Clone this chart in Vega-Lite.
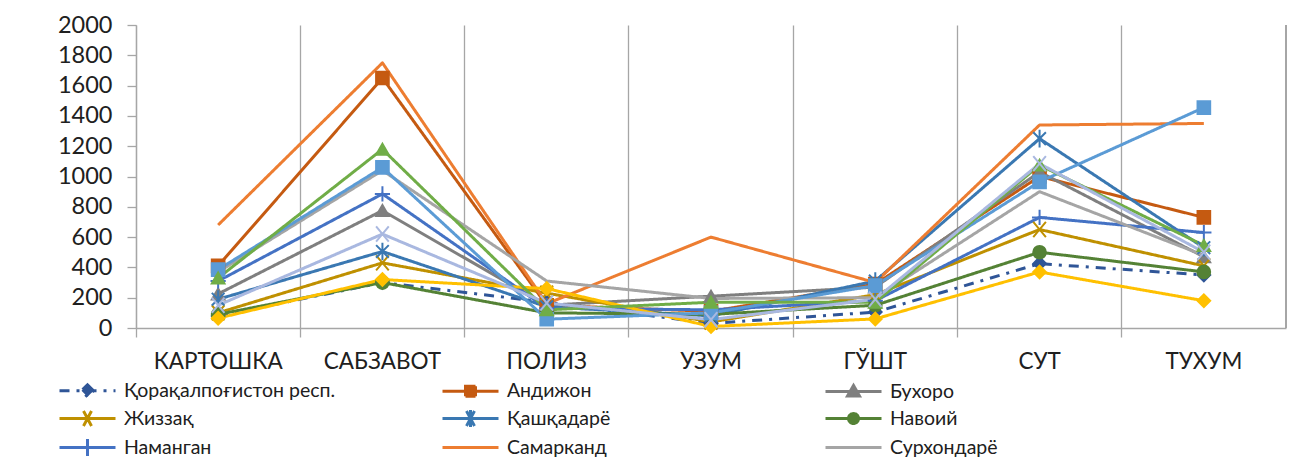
{
  "$schema": "https://vega.github.io/schema/vega-lite/v6.json",
  "width": 1150,
  "height": 303,
  "autosize": {"type": "none"},
  "padding": {"left": 136, "top": 25, "right": 3, "bottom": 131},
  "background": "white",
  "config": {
    "view": {"stroke": null},
    "font": "Lato",
    "axis": {"labelOverlap": false, "labelBound": false},
    "legend": {
      "title": null,
      "orient": "none",
      "legendX": -78,
      "legendY": 353,
      "padding": 0,
      "columns": 3,
      "gridAlign": "all",
      "columnPadding": 100,
      "rowPadding": 0,
      "symbolSize": 400,
      "symbolStrokeWidth": 3,
      "labelFontSize": 19.5,
      "labelFont": "Lato",
      "labelColor": "#202020",
      "labelOffset": 43,
      "labelLimit": 400
    }
  },
  "data": {
    "values": [
      {"region": "Қорақалпоғистон респ.", "category": "КАРТОШКА", "value": 80},
      {"region": "Қорақалпоғистон респ.", "category": "САБЗАВОТ", "value": 300},
      {"region": "Қорақалпоғистон респ.", "category": "ПОЛИЗ", "value": 170},
      {"region": "Қорақалпоғистон респ.", "category": "УЗУМ", "value": 30},
      {"region": "Қорақалпоғистон респ.", "category": "ГЎШТ", "value": 105},
      {"region": "Қорақалпоғистон респ.", "category": "СУТ", "value": 425},
      {"region": "Қорақалпоғистон респ.", "category": "ТУХУМ", "value": 350},
      {"region": "Андижон", "category": "КАРТОШКА", "value": 410},
      {"region": "Андижон", "category": "САБЗАВОТ", "value": 1650},
      {"region": "Андижон", "category": "ПОЛИЗ", "value": 150},
      {"region": "Андижон", "category": "УЗУМ", "value": 110},
      {"region": "Андижон", "category": "ГЎШТ", "value": 290},
      {"region": "Андижон", "category": "СУТ", "value": 1000},
      {"region": "Андижон", "category": "ТУХУМ", "value": 730},
      {"region": "Бухоро", "category": "КАРТОШКА", "value": 225},
      {"region": "Бухоро", "category": "САБЗАВОТ", "value": 775},
      {"region": "Бухоро", "category": "ПОЛИЗ", "value": 150},
      {"region": "Бухоро", "category": "УЗУМ", "value": 210},
      {"region": "Бухоро", "category": "ГЎШТ", "value": 270},
      {"region": "Бухоро", "category": "СУТ", "value": 1030},
      {"region": "Бухоро", "category": "ТУХУМ", "value": 470},
      {"region": "Жиззақ", "category": "КАРТОШКА", "value": 100},
      {"region": "Жиззақ", "category": "САБЗАВОТ", "value": 430},
      {"region": "Жиззақ", "category": "ПОЛИЗ", "value": 230},
      {"region": "Жиззақ", "category": "УЗУМ", "value": 40},
      {"region": "Жиззақ", "category": "ГЎШТ", "value": 220},
      {"region": "Жиззақ", "category": "СУТ", "value": 650},
      {"region": "Жиззақ", "category": "ТУХУМ", "value": 410},
      {"region": "Қашқадарё", "category": "КАРТОШКА", "value": 190},
      {"region": "Қашқадарё", "category": "САБЗАВОТ", "value": 505},
      {"region": "Қашқадарё", "category": "ПОЛИЗ", "value": 140},
      {"region": "Қашқадарё", "category": "УЗУМ", "value": 80},
      {"region": "Қашқадарё", "category": "ГЎШТ", "value": 310},
      {"region": "Қашқадарё", "category": "СУТ", "value": 1250},
      {"region": "Қашқадарё", "category": "ТУХУМ", "value": 530},
      {"region": "Навоий", "category": "КАРТОШКА", "value": 90},
      {"region": "Навоий", "category": "САБЗАВОТ", "value": 300},
      {"region": "Навоий", "category": "ПОЛИЗ", "value": 100},
      {"region": "Навоий", "category": "УЗУМ", "value": 90},
      {"region": "Навоий", "category": "ГЎШТ", "value": 150},
      {"region": "Навоий", "category": "СУТ", "value": 500},
      {"region": "Навоий", "category": "ТУХУМ", "value": 370},
      {"region": "Наманган", "category": "КАРТОШКА", "value": 310},
      {"region": "Наманган", "category": "САБЗАВОТ", "value": 885},
      {"region": "Наманган", "category": "ПОЛИЗ", "value": 130},
      {"region": "Наманган", "category": "УЗУМ", "value": 120},
      {"region": "Наманган", "category": "ГЎШТ", "value": 180},
      {"region": "Наманган", "category": "СУТ", "value": 730},
      {"region": "Наманган", "category": "ТУХУМ", "value": 630},
      {"region": "Самарканд", "category": "КАРТОШКА", "value": 680},
      {"region": "Самарканд", "category": "САБЗАВОТ", "value": 1750},
      {"region": "Самарканд", "category": "ПОЛИЗ", "value": 160},
      {"region": "Самарканд", "category": "УЗУМ", "value": 600},
      {"region": "Самарканд", "category": "ГЎШТ", "value": 300},
      {"region": "Самарканд", "category": "СУТ", "value": 1340},
      {"region": "Самарканд", "category": "ТУХУМ", "value": 1350},
      {"region": "Сурхондарё", "category": "КАРТОШКА", "value": 370},
      {"region": "Сурхондарё", "category": "САБЗАВОТ", "value": 1040},
      {"region": "Сурхондарё", "category": "ПОЛИЗ", "value": 310},
      {"region": "Сурхондарё", "category": "УЗУМ", "value": 195},
      {"region": "Сурхондарё", "category": "ГЎШТ", "value": 200},
      {"region": "Сурхондарё", "category": "СУТ", "value": 900},
      {"region": "Сурхондарё", "category": "ТУХУМ", "value": 480},
      {"region": "Сирдарё", "category": "КАРТОШКА", "value": 65},
      {"region": "Сирдарё", "category": "САБЗАВОТ", "value": 320},
      {"region": "Сирдарё", "category": "ПОЛИЗ", "value": 260},
      {"region": "Сирдарё", "category": "УЗУМ", "value": 10},
      {"region": "Сирдарё", "category": "ГЎШТ", "value": 60},
      {"region": "Сирдарё", "category": "СУТ", "value": 370},
      {"region": "Сирдарё", "category": "ТУХУМ", "value": 180},
      {"region": "Тошкент", "category": "КАРТОШКА", "value": 385},
      {"region": "Тошкент", "category": "САБЗАВОТ", "value": 1060},
      {"region": "Тошкент", "category": "ПОЛИЗ", "value": 58},
      {"region": "Тошкент", "category": "УЗУМ", "value": 100},
      {"region": "Тошкент", "category": "ГЎШТ", "value": 280},
      {"region": "Тошкент", "category": "СУТ", "value": 965},
      {"region": "Тошкент", "category": "ТУХУМ", "value": 1455},
      {"region": "Фарғона", "category": "КАРТОШКА", "value": 330},
      {"region": "Фарғона", "category": "САБЗАВОТ", "value": 1180},
      {"region": "Фарғона", "category": "ПОЛИЗ", "value": 120},
      {"region": "Фарғона", "category": "УЗУМ", "value": 170},
      {"region": "Фарғона", "category": "ГЎШТ", "value": 170},
      {"region": "Фарғона", "category": "СУТ", "value": 1075},
      {"region": "Фарғона", "category": "ТУХУМ", "value": 545},
      {"region": "Хоразм", "category": "КАРТОШКА", "value": 150},
      {"region": "Хоразм", "category": "САБЗАВОТ", "value": 620},
      {"region": "Хоразм", "category": "ПОЛИЗ", "value": 165},
      {"region": "Хоразм", "category": "УЗУМ", "value": 55},
      {"region": "Хоразм", "category": "ГЎШТ", "value": 190},
      {"region": "Хоразм", "category": "СУТ", "value": 1085},
      {"region": "Хоразм", "category": "ТУХУМ", "value": 500}
    ]
  },
  "layer": [
    {
      "mark": {"type": "rule", "color": "#A6A6A6", "strokeWidth": 1.3},
      "encoding": {
        "x": {"datum": "ТУХУМ", "type": "nominal", "bandPosition": 1}
      }
    },
    {
      "mark": {"type": "line", "strokeWidth": 3, "strokeJoin": "round"},
      "encoding": {
        "x": {
          "field": "category",
          "type": "nominal",
          "sort": null,
          "scale": {"type": "band", "domain": ["КАРТОШКА", "САБЗАВОТ", "ПОЛИЗ", "УЗУМ", "ГЎШТ", "СУТ", "ТУХУМ"], "paddingInner": 0, "paddingOuter": 0},
          "axis": {
            "title": null,
            "bandPosition": 0,
            "grid": true,
            "gridColor": "#A6A6A6",
            "gridWidth": 1.3,
            "domainColor": "#A6A6A6",
            "domainWidth": 1.3,
            "tickColor": "#A6A6A6",
            "tickWidth": 1.3,
            "tickSize": 9,
            "labelAngle": 0,
            "labelAlign": "center",
            "labelFontSize": 22.5,
            "labelColor": "#202020",
            "labelPadding": 24,
            "labelOffset": 0,
            "labelOverlap": false
          }
        },
        "y": {
          "field": "value",
          "type": "quantitative",
          "scale": {"domain": [0, 2000], "nice": false},
          "axis": {
            "title": null,
            "values": [0, 200, 400, 600, 800, 1000, 1200, 1400, 1600, 1800, 2000],
            "tickCount": 11,
            "format": "d",
            "labelOverlap": false,
            "grid": false,
            "domainColor": "#A6A6A6",
            "domainWidth": 1.3,
            "tickColor": "#A6A6A6",
            "tickWidth": 1.3,
            "tickSize": 9,
            "labelFontSize": 23.5,
            "labelColor": "#202020",
            "labelPadding": 15
          }
        },
        "color": {
          "field": "region",
          "type": "nominal",
          "scale": {
            "domain": ["Қорақалпоғистон респ.", "Жиззақ", "Наманган", "Сирдарё", "Хоразм", "Андижон", "Қашқадарё", "Самарканд", "Тошкент", "Фарғона", "Бухоро", "Навоий", "Сурхондарё"],
            "range": ["#2F5597", "#BF9000", "#4472C4", "#FFC000", "#A9B8E0", "#C55A11", "#3A78B2", "#ED7D31", "#5B9BD5", "#70AD47", "#7F7F7F", "#548235", "#A5A5A5"]
          },
          "legend": {
            "symbolType": {"expr": "['M-1,0H4.6M1.8,-0.6L2.4,0L1.8,0.6L1.2,0Z','M-1,0H4.6M1.3,-0.5H2.3V0.5H1.3Z','M-1,0H4.6M1.8,-0.6L2.4,0.45L1.2,0.45Z','M-1,0H4.6M1.4,-0.75L2.2,0.75M1.4,0.75L2.2,-0.75','M-1,0H4.6M1.4,-0.75L2.2,0.75M1.4,0.75L2.2,-0.75M1.8,-0.85V0.85','M-1,0H4.6M2.3,0A0.5,0.5 0 1,1 1.3,0A0.5,0.5 0 1,1 2.3,0Z','M-1,0H4.6M1.8,-0.85V0.85','M-1,0H4.6','M-1,0H4.6','M-1,0H4.6M1.8,-0.6L2.4,0L1.8,0.6L1.2,0Z','M-1,0H4.6M1.3,-0.5H2.3V0.5H1.3Z','M-1,0H4.6M1.8,-0.6L2.4,0.45L1.2,0.45Z','M-1,0H4.6M1.4,-0.75L2.2,0.75M1.4,0.75L2.2,-0.75'][indexof(['Қорақалпоғистон респ.','Андижон','Бухоро','Жиззақ','Қашқадарё','Навоий','Наманган','Самарканд','Сурхондарё','Сирдарё','Тошкент','Фарғона','Хоразм'], datum.value)]"},
            "symbolFillColor": {"expr": "scale('color', datum.value)"},
            "symbolStrokeColor": {"expr": "scale('color', datum.value)"},
            "symbolDash": {"expr": "datum.value === 'Қорақалпоғистон респ.' ? [10, 7, 3, 7] : [1, 0]"}
          }
        },
        "strokeDash": {
          "field": "region",
          "type": "nominal",
          "scale": {
            "domain": ["Қорақалпоғистон респ.", "Андижон", "Бухоро", "Жиззақ", "Қашқадарё", "Навоий", "Наманган", "Самарканд", "Сурхондарё", "Сирдарё", "Тошкент", "Фарғона", "Хоразм"],
            "range": [[10, 7, 3, 7], [1, 0], [1, 0], [1, 0], [1, 0], [1, 0], [1, 0], [1, 0], [1, 0], [1, 0], [1, 0], [1, 0], [1, 0]]
          },
          "legend": null
        }
      }
    },
    {
      "transform": [{"filter": {"not": {"field": "region", "oneOf": ["Самарканд", "Сурхондарё"]}}}],
      "mark": {"type": "point", "size": 160, "opacity": 1, "strokeWidth": 2},
      "encoding": {
        "x": {"field": "category", "type": "nominal", "sort": null},
        "y": {
          "field": "value",
          "type": "quantitative",
          "axis": {
            "title": null,
            "values": [0, 200, 400, 600, 800, 1000, 1200, 1400, 1600, 1800, 2000],
            "tickCount": 11,
            "format": "d",
            "labelOverlap": false
          }
        },
        "fill": {
          "field": "region",
          "type": "nominal",
          "scale": {
            "domain": ["Қорақалпоғистон респ.", "Андижон", "Бухоро", "Жиззақ", "Қашқадарё", "Навоий", "Наманган", "Самарканд", "Сурхондарё", "Сирдарё", "Тошкент", "Фарғона", "Хоразм"],
            "range": ["#2F5597", "#C55A11", "#7F7F7F", "#BF9000", "#3A78B2", "#548235", "#4472C4", "#ED7D31", "#A5A5A5", "#FFC000", "#5B9BD5", "#70AD47", "#A9B8E0"]
          },
          "legend": null
        },
        "stroke": {
          "field": "region",
          "type": "nominal",
          "scale": {
            "domain": ["Қорақалпоғистон респ.", "Андижон", "Бухоро", "Жиззақ", "Қашқадарё", "Навоий", "Наманган", "Самарканд", "Сурхондарё", "Сирдарё", "Тошкент", "Фарғона", "Хоразм"],
            "range": ["#2F5597", "#C55A11", "#7F7F7F", "#BF9000", "#3A78B2", "#548235", "#4472C4", "#ED7D31", "#A5A5A5", "#FFC000", "#5B9BD5", "#70AD47", "#A9B8E0"]
          },
          "legend": null
        },
        "shape": {
          "field": "region",
          "type": "nominal",
          "scale": {
            "domain": ["Қорақалпоғистон респ.", "Андижон", "Бухоро", "Жиззақ", "Қашқадарё", "Навоий", "Наманган", "Самарканд", "Сурхондарё", "Сирдарё", "Тошкент", "Фарғона", "Хоразм"],
            "range": ["diamond", "square", "triangle-up", "M-1,-1.2L1,1.2M-1,1.2L1,-1.2", "M-1,-1L1,1M-1,1L1,-1M0,-1.4V1.4", "circle", "M-1.2,0H1.2M0,-1.2V1.2", "circle", "circle", "diamond", "square", "triangle-up", "M-1,-1.2L1,1.2M-1,1.2L1,-1.2"]
          },
          "legend": null
        }
      }
    }
  ]
}
